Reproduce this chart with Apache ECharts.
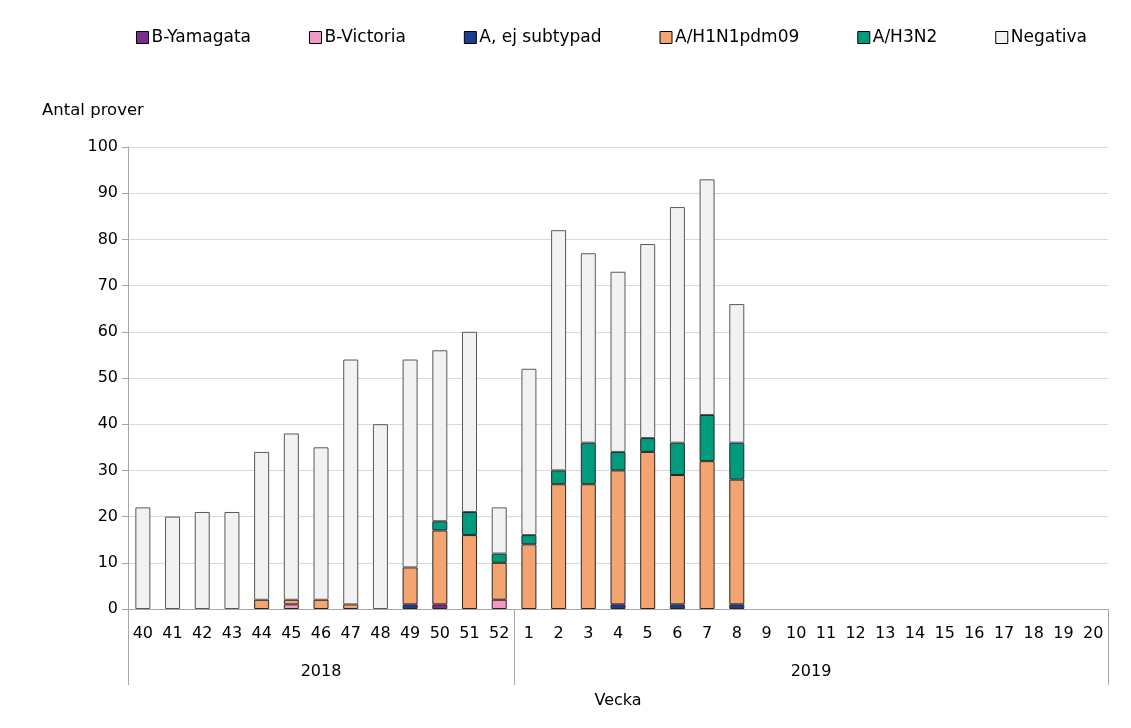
<!DOCTYPE html>
<html><head><meta charset="utf-8">
<script src="https://cdn.jsdelivr.net/npm/echarts@6/dist/echarts.min.js"></script>
<style>html,body{margin:0;padding:0;background:#fff}#c{width:1131px;height:728px}</style>
</head><body><div id="c"></div>
<script>
const weeks = ['40','41','42','43','44','45','46','47','48','49','50','51','52','1','2','3','4','5','6','7','8','9','10','11','12','13','14','15','16','17','18','19','20'];
const years = ['2018','2019'];
const yTicks = [0,10,20,30,40,50,60,70,80,90,100];
const bYamagata = [0,0,0,0,0,0,0,0,0,0,1,0,0,0,0,0,0,0,0,0,0,0,0,0,0,0,0,0,0,0,0,0,0];
const bVictoria = [0,0,0,0,0,1,0,0,0,0,0,0,2,0,0,0,0,0,0,0,0,0,0,0,0,0,0,0,0,0,0,0,0];
const aEj       = [0,0,0,0,0,0,0,0,0,1,0,0,0,0,0,0,1,0,1,0,1,0,0,0,0,0,0,0,0,0,0,0,0];
const h1n1      = [0,0,0,0,2,1,2,1,0,8,16,16,8,14,27,27,29,34,28,32,27,0,0,0,0,0,0,0,0,0,0,0,0];
const h3n2      = [0,0,0,0,0,0,0,0,0,0,2,5,2,2,3,9,4,3,7,10,8,0,0,0,0,0,0,0,0,0,0,0,0];
const negativa  = [22,20,21,21,32,36,33,53,40,45,37,39,10,36,52,41,39,42,51,51,30,0,0,0,0,0,0,0,0,0,0,0,0];

const FONT = 'DejaVu Sans';
const seriesDefs = [
  ['B-Yamagata', bYamagata, '#7B2D8E'],
  ['B-Victoria', bVictoria, '#F29AC6'],
  ['A, ej subtypad', aEj, '#1F3D8F'],
  ['A/H1N1pdm09', h1n1, '#F4A470'],
  ['A/H3N2', h3n2, '#009B7D'],
  ['Negativa', negativa, '#F2F2F2']
];
const chart = echarts.init(document.getElementById('c'));
chart.setOption({
  animation: false,
  textStyle: {fontFamily: FONT},
  title: {text: 'Antal prover', left: 37, top: 97, textStyle: {fontFamily: FONT, fontSize: 16.5, fontWeight: 'normal', color: '#000'}},
  legend: {
    left: 131, top: 24, itemWidth: 12, itemHeight: 12, itemGap: 58,
    textStyle: {fontFamily: FONT, fontSize: 17, color: '#000', padding: [0,0,0,-2]},
    data: seriesDefs.map(s => ({name: s[0], icon: 'rect', itemStyle: {borderColor: '#000', borderWidth: 1}}))
  },
  grid: {left: 128, right: 23, top: 147, bottom: 119},
  xAxis: [{
    type: 'category', data: weeks, boundaryGap: true,
    axisLine: {lineStyle: {color: '#A6A6A6', width: 1}},
    axisTick: {show: false},
    axisLabel: {color: '#000', fontSize: 16, fontFamily: FONT, margin: 17, interval: 0}
  }, {
    type: 'value', min: 0, max: weeks.length, position: 'bottom',
    axisLine: {show: false},
    splitLine: {show: false},
    axisTick: {show: true, customValues: [0, 13, 33], length: 76, lineStyle: {color: '#A6A6A6'}},
    axisLabel: {show: true, customValues: [6.5, 23], margin: 55, color: '#000', fontSize: 16, fontFamily: FONT,
      formatter: v => v < 13 ? years[0] : years[1]},
    name: 'Vecka', nameLocation: 'middle', nameGap: 84,
    nameTextStyle: {color: '#000', fontSize: 16, fontFamily: FONT}
  }],
  yAxis: {
    type: 'value', min: 0, max: 100, interval: 10,
    axisLine: {show: true, lineStyle: {color: '#A6A6A6'}},
    axisTick: {show: true, length: 6, lineStyle: {color: '#A6A6A6'}},
    splitLine: {lineStyle: {color: '#D9D9D9'}},
    axisLabel: {color: '#000', fontSize: 16, fontFamily: FONT, margin: 10,
      customValues: yTicks}
  },
  series: seriesDefs.map(s => ({
    name: s[0], type: 'bar', stack: 'all', xAxisIndex: 0, barWidth: 15,
    data: s[1].map(v => v === 0 ? '-' : v),
    itemStyle: {color: s[2], borderColor: s[0] === 'Negativa' ? '#595959' : '#262626', borderWidth: 1}
  }))
});
</script></body></html>
